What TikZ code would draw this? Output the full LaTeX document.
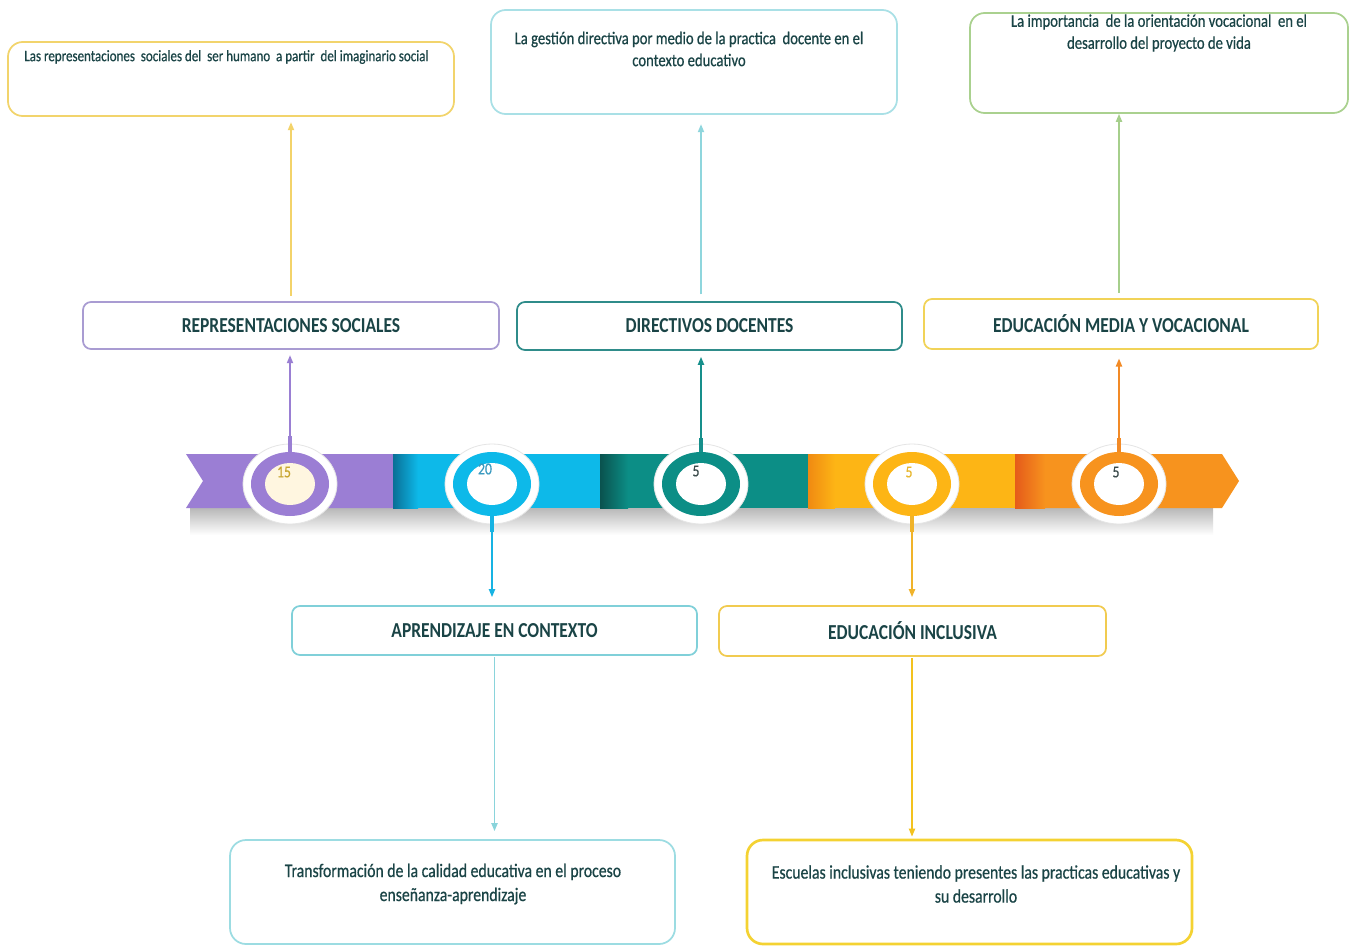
\documentclass[tikz,border=0pt]{standalone}
\usepackage{fontspec}
\setmainfont{Carlito}
\newfontfamily\condf{Carlito}[FakeStretch=0.82, UprightFeatures={FakeBold=0.6}]
\usetikzlibrary{shapes.geometric,arrows.meta}
\definecolor{txtC}{HTML}{1A4446}
\definecolor{purpleC}{HTML}{9B7ED4}
\definecolor{cyanC}{HTML}{0DB9E9}
\definecolor{cyanD}{HTML}{0A6F96}
\definecolor{tealC}{HTML}{0C8E86}
\definecolor{tealD}{HTML}{0A524E}
\definecolor{amberC}{HTML}{FDB515}
\definecolor{amberD}{HTML}{F08A12}
\definecolor{orangeC}{HTML}{F7931E}
\definecolor{orangeD}{HTML}{E55B1A}
\definecolor{creamC}{HTML}{FFF6E0}
\definecolor{bT1}{HTML}{F2D46C}
\definecolor{bT2}{HTML}{A9E0E6}
\definecolor{bT3}{HTML}{AAD18F}
\definecolor{bM1}{HTML}{A99CD2}
\definecolor{bM2}{HTML}{2F8C8A}
\definecolor{bM3}{HTML}{F1D358}
\definecolor{bM4}{HTML}{80D0D9}
\definecolor{bM5}{HTML}{F1CB50}
\definecolor{bB1}{HTML}{9CDCE2}
\definecolor{bB2}{HTML}{F4D232}
\definecolor{aT1}{HTML}{F3D36A}
\definecolor{aT2}{HTML}{8FD6DD}
\definecolor{aT3}{HTML}{A6CF8C}
\definecolor{aPur}{HTML}{9A7FD3}
\definecolor{aTeal}{HTML}{168F8B}
\definecolor{aOra}{HTML}{F28A26}
\definecolor{aCyan}{HTML}{17B3E3}
\definecolor{aB1}{HTML}{8AD4DB}
\definecolor{aAmb}{HTML}{F0B32A}
\definecolor{aB2}{HTML}{F3C21E}
\definecolor{n15}{HTML}{C8A630}
\definecolor{n20}{HTML}{3A9AC0}
\definecolor{nDark}{HTML}{3B4B4B}
\definecolor{nAmb}{HTML}{E8B830}
\begin{document}
\begin{tikzpicture}[x=0.75pt,y=-0.75pt,
  wh/.style 2 args={minimum width={#1*0.75pt}, minimum height={#2*0.75pt}},
  box/.style={draw, line width=1.3pt, rounded corners=8pt, fill=white, inner sep=0pt},
  bigbox/.style={box, rounded corners=11pt},
  midbox/.style={box, rounded corners=6pt, font=\condf\bfseries\fontsize{16}{19}\selectfont, text=txtC},
  smalltxt/.style={font=\condf\fontsize{11.9}{14}\selectfont, text=txtC, inner sep=0pt},
  toptxt/.style={font=\condf\fontsize{13.4}{16.5}\selectfont, text=txtC, align=center, inner sep=0pt},
  bottxt/.style={font=\condf\fontsize{14.4}{18}\selectfont, text=txtC, align=center, inner sep=0pt},
  numtxt/.style={font=\condf\fontsize{12.5}{14}\selectfont, inner sep=0pt},
  outer/.style={ellipse, fill=white, draw=black!10, line width=0.6pt, wh={94}{80}, inner sep=0pt},
  ring/.style={ellipse, fill=#1, wh={78}{64}, inner sep=0pt},
  inner/.style={ellipse, fill=#1, wh={50}{42}, inner sep=0pt},
  arr/.style={line width=1.2pt, -{Triangle[length=6pt,width=4.6pt]}},
  stub/.style={line width=2.4pt}
]
\useasboundingbox (0,0) rectangle (1355,946);
\fill[white] (0,0) rectangle (1355,946);

% ---------- top boxes ----------
\node[bigbox, draw=bT1, wh={446}{74}] (T1) at (231,79) {};
\node[smalltxt, anchor=west] (T1t) at (24,57) {Las representaciones\ \ sociales del\ \ ser humano\ \ a partir\ \ del imaginario social};
\node[bigbox, draw=bT2, wh={406}{104}] (T2) at (694,62) {};
\node[toptxt] (T2t) at (689,49) {La gestión directiva por medio de la practica\ \ docente en el\\contexto educativo};
\node[bigbox, draw=bT3, wh={378}{100}] (T3) at (1159,63) {};
\node[toptxt] (T3t) at (1159,33) {La importancia\ \ de la orientación vocacional\ \ en el\\desarrollo del proyecto de vida};

% ---------- middle boxes ----------
\node[midbox, draw=bM1, wh={416}{47}] (M1) at (291,325.5) {REPRESENTACIONES SOCIALES};
\node[midbox, draw=bM2, wh={385}{48}] (M2) at (709.5,326) {DIRECTIVOS DOCENTES};
\node[midbox, draw=bM3, wh={394}{50}] (M3) at (1121,324) {EDUCACIÓN MEDIA Y VOCACIONAL};
\node[midbox, draw=bM4, wh={405}{49}] (M4) at (494.5,630.5) {APRENDIZAJE EN CONTEXTO};
\node[midbox, draw=bM5, wh={387}{50}] (M5) at (912.5,631) {EDUCACIÓN INCLUSIVA};

% ---------- bottom boxes ----------
\node[bigbox, draw=bB1, wh={445}{104}, rounded corners=12pt] (B1) at (452.5,892) {};
\node[bottxt] (B1t) at (453,884) {Transformación de la calidad educativa en el proceso\\enseñanza-aprendizaje};
\node[bigbox, draw=bB2, line width=2pt, wh={445}{104}, rounded corners=12pt] (B2) at (969.5,892) {};
\node[bottxt] (B2t) at (976,884) {Escuelas inclusivas teniendo presentes las practicas educativas y\\su desarrollo};

% ---------- timeline band ----------
\shade[top color=black!28, bottom color=white] (190,508) rectangle (1213,535);
\fill[purpleC] (186,454) -- (393,454) -- (393,508) -- (186,508) -- (203,481) -- cycle;
\fill[cyanC] (393,454) rectangle (600,508);
\shade[left color=cyanD, right color=cyanC] (393,454) rectangle (418,508);
\fill[tealC] (600,454) rectangle (808,508);
\shade[left color=tealD, right color=tealC] (600,454) rectangle (628,508);
\fill[amberC] (808,454) rectangle (1015,508);
\shade[left color=amberD, right color=amberC] (808,454) rectangle (835,508);
\fill[orangeC] (1015,454) -- (1222,454) -- (1239,481) -- (1222,508) -- (1015,508) -- cycle;
\shade[left color=orangeD, right color=orangeC] (1015,454) rectangle (1045,508);

% ---------- circles ----------
\node[outer] (o1) at (290,484) {};
\node[ring=purpleC] (c1) at (290,484) {};
\node[inner=creamC] (i1) at (290,484) {};
\node[numtxt, text=n15] (n1) at (284,472) {15};

\node[outer] (o2) at (492,484) {};
\node[ring=cyanC] (c2) at (492,484) {};
\node[inner=white] (i2) at (492,484) {};
\node[numtxt, text=n20] (n2) at (485,469) {20};

\node[outer] (o3) at (701,484) {};
\node[ring=tealC] (c3) at (701,484) {};
\node[inner=white] (i3) at (701,484) {};
\node[numtxt, text=nDark] (n3) at (696,471) {5};

\node[outer] (o4) at (912,484) {};
\node[ring=amberC] (c4) at (912,484) {};
\node[inner=white] (i4) at (912,484) {};
\node[numtxt, text=nAmb] (n4) at (909,472) {5};

\node[outer] (o5) at (1119,484) {};
\node[ring=orangeC] (c5) at (1119,484) {};
\node[inner=white] (i5) at (1119,484) {};
\node[numtxt, text=nDark] (n5) at (1116,472) {5};

% ---------- connectors ----------
\draw[stub, aPur] (c1.north) -- ++(0,-16);
\draw[arr, aPur, shorten >=4pt] (c1.north) -- (c1.north |- M1.south);
\draw[arr, aT1, shorten <=4pt, shorten >=4pt] (M1.north) -- (M1.north |- T1.south);

\draw[stub, aTeal] (c3.north) -- ++(0,-14);
\draw[arr, aTeal, shorten >=4.5pt] (c3.north) -- (c3.north |- M2.south);
\draw[arr, aT2, shorten <=5pt, shorten >=7pt] (M2.north -| c3) -- (c3.north |- T2.south);

\draw[stub, aOra] (c5.north) -- ++(0,-14);
\draw[arr, aOra, shorten >=6.5pt] (c5.north) -- (c5.north |- M3.south);
\draw[arr, aT3, shorten <=4pt] (M3.north -| c5) -- (c5.north |- T3.south);

\draw[stub, aCyan] (c2.south) -- ++(0,16);
\draw[arr, aCyan, shorten >=6pt] (c2.south) -- (c2.south |- M4.north);
\draw[arr, aB1, shorten <=1pt, shorten >=6pt] (M4.south) -- (M4.south |- B1.north);

\draw[stub, aAmb] (c4.south) -- ++(0,16);
\draw[arr, aAmb, shorten >=6pt] (c4.south) -- (c4.south |- M5.north);
\draw[arr, aB2, shorten <=1pt, shorten >=1.5pt] (M5.south -| c4) -- (c4.south |- B2.north);
\end{tikzpicture}
\end{document}
